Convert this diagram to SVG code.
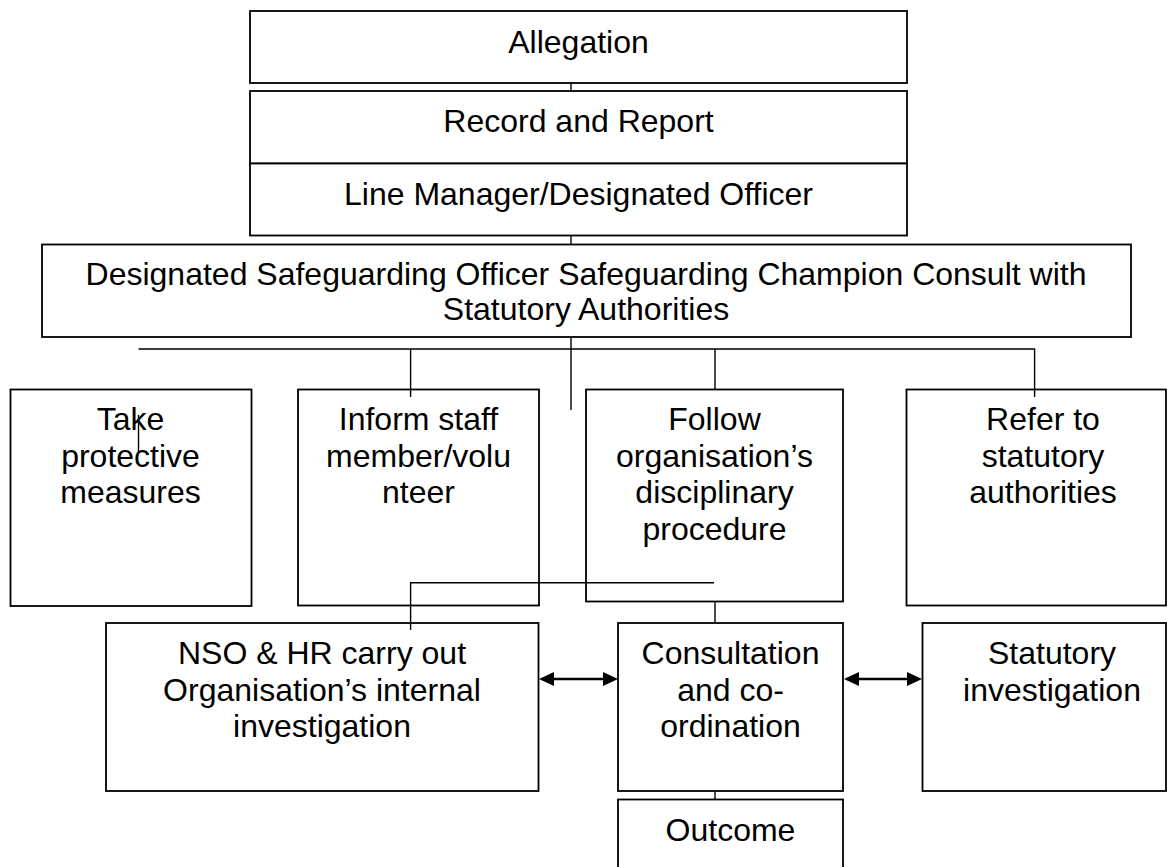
<svg xmlns="http://www.w3.org/2000/svg" width="1167" height="867" viewBox="0 0 1167 867">
<style>
.box{fill:#fff;stroke:#000;stroke-width:1.8}
.t{font-family:"Liberation Sans",Arial,sans-serif;font-size:32px;fill:#000;text-anchor:middle}
.c{fill:none;stroke:#000;stroke-width:1.4}
.a{fill:none;stroke:#000;stroke-width:2.4}
</style>
<defs>
<marker id="ah" viewBox="0 0 15 14" refX="12" refY="7" markerWidth="15" markerHeight="14" markerUnits="userSpaceOnUse" orient="auto-start-reverse">
<path d="M0,0 L15,7 L0,14 Z" fill="#000"/>
</marker>
</defs>
<rect width="1167" height="867" fill="#fff"/>
<g id="allegation">
<rect class="box" x="250" y="11" width="657" height="72"/>
<text class="t" x="578.5" y="52.5">Allegation</text>
</g>
<g id="record">
<rect class="box" x="250" y="91" width="657" height="72.5"/>
<text class="t" x="578.5" y="131.5">Record and Report</text>
</g>
<g id="linemanager">
<rect class="box" x="250" y="163.5" width="657" height="72"/>
<text class="t" x="578.5" y="204.5">Line Manager/Designated Officer</text>
</g>
<g id="dso">
<rect class="box" x="42" y="244.5" width="1089" height="92.5"/>
<text class="t" x="586" y="285">Designated Safeguarding Officer Safeguarding Champion Consult with</text>
<text class="t" x="586" y="320">Statutory Authorities</text>
</g>
<g id="take">
<rect class="box" x="10.5" y="389.5" width="241" height="216.5"/>
<text class="t" x="130.5" y="430">Take</text>
<text class="t" x="130.5" y="466.7">protective</text>
<text class="t" x="130.5" y="503.3">measures</text>
</g>
<g id="inform">
<rect class="box" x="298" y="389.5" width="241" height="216"/>
<text class="t" x="418.5" y="430">Inform staff</text>
<text class="t" x="418.5" y="466.7">member/volu</text>
<text class="t" x="418.5" y="503.3">nteer</text>
</g>
<g id="follow">
<rect class="box" x="586" y="389.5" width="257" height="212"/>
<text class="t" x="714.5" y="430">Follow</text>
<text class="t" x="714.5" y="466.7">organisation’s</text>
<text class="t" x="714.5" y="503.3">disciplinary</text>
<text class="t" x="714.5" y="540">procedure</text>
</g>
<g id="refer">
<rect class="box" x="906.5" y="389.5" width="259.5" height="216"/>
<text class="t" x="1043" y="430">Refer to</text>
<text class="t" x="1043" y="466.7">statutory</text>
<text class="t" x="1043" y="503.3">authorities</text>
</g>
<g id="nso">
<rect class="box" x="106" y="623" width="432.5" height="168"/>
<text class="t" x="322" y="664">NSO &amp; HR carry out</text>
<text class="t" x="322" y="700.5">Organisation’s internal</text>
<text class="t" x="322" y="737">investigation</text>
</g>
<g id="consultation">
<rect class="box" x="618" y="623" width="225" height="168"/>
<text class="t" x="730.5" y="664">Consultation</text>
<text class="t" x="730.5" y="700.5">and co-</text>
<text class="t" x="730.5" y="737">ordination</text>
</g>
<g id="statutory">
<rect class="box" x="922.5" y="623" width="243.5" height="168"/>
<text class="t" x="1052" y="664">Statutory</text>
<text class="t" x="1052" y="700.5">investigation</text>
</g>
<g id="outcome">
<rect class="box" x="618" y="799.5" width="225" height="100"/>
<text class="t" x="730.5" y="841">Outcome</text>
</g>
<g id="connectors">
<path class="c" d="M571,83 V91"/>
<path class="c" d="M571,235.5 V244.5"/>
<path class="c" d="M571,337 V410"/>
<path class="c" d="M138.5,349 H1034.6 V397"/>
<path class="c" d="M410.6,349 V397"/>
<path class="c" d="M715,349 V389.5"/>
<path class="c" d="M138.5,415 V452"/>
<path class="c" d="M410.6,630 V582.7 H714"/>
<path class="c" d="M715,601.5 V623"/>
<path class="c" d="M715,791 V799.5"/>
<path class="a" d="M542,679 H615" marker-start="url(#ah)" marker-end="url(#ah)"/>
<path class="a" d="M847,679 H919" marker-start="url(#ah)" marker-end="url(#ah)"/>
</g>
</svg>
